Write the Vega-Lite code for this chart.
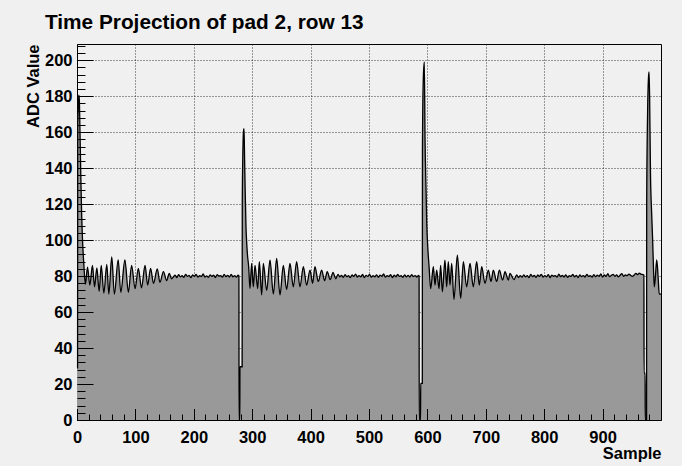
{
  "$schema": "https://vega.github.io/schema/vega-lite/v6.json",
  "width": 584,
  "height": 376,
  "autosize": {"type": "none"},
  "padding": {"left": 77, "top": 44, "right": 21, "bottom": 46},
  "background": "#f0f0f0",
  "title": {"text": "Time Projection of pad 2, row 13", "anchor": "start", "frame": "group", "dx": -32, "offset": -6, "baseline": "alphabetic", "font": "Liberation Sans", "fontSize": 20.8, "fontWeight": "bold", "color": "#000000"},
  "config": {"view": {"stroke": "#000000", "strokeWidth": 1, "fill": "#f0f0f0"}},
  "data": {"values": [
    {"sample":0,"adc":29},{"sample":1,"adc":29},{"sample":1.2,"adc":165},{"sample":2,"adc":172},{"sample":3,"adc":180.5},{"sample":4,"adc":178},{"sample":5,"adc":162},{"sample":6,"adc":145},{"sample":7,"adc":128},{"sample":8,"adc":114},{"sample":9,"adc":104},{"sample":10,"adc":96},{"sample":11,"adc":90},{"sample":12,"adc":85},{"sample":13,"adc":80},{"sample":14.5,"adc":75.5},
    {"sample":18,"adc":85},{"sample":22,"adc":75},{"sample":26.5,"adc":86},{"sample":30,"adc":74},{"sample":34,"adc":84.5},{"sample":38,"adc":71.5},{"sample":41.5,"adc":86},{"sample":46,"adc":70.5},{"sample":51,"adc":86.5},{"sample":54.5,"adc":70},{"sample":59.5,"adc":90.7},{"sample":64,"adc":70},{"sample":70.5,"adc":89},{"sample":75,"adc":71},{"sample":82,"adc":89},{"sample":88,"adc":71},{"sample":93.5,"adc":86},{"sample":99.5,"adc":73},{"sample":105,"adc":84.3},{"sample":110.5,"adc":73.5},{"sample":116.5,"adc":86},{"sample":121,"adc":75},{"sample":126,"adc":84.3},{"sample":131,"adc":76},{"sample":137.5,"adc":84},{"sample":142,"adc":76.5},{"sample":148,"adc":82.5},{"sample":153.5,"adc":77.5},{"sample":158,"adc":81.5},{"sample":162,"adc":78.5},
    {"sample":165,"adc":79.5},{"sample":168,"adc":80.5},{"sample":171,"adc":79.2},{"sample":174,"adc":80.8},{"sample":177,"adc":79.6},{"sample":180,"adc":80.2},{"sample":183,"adc":79.3},{"sample":186,"adc":81},{"sample":189,"adc":79.8},{"sample":192,"adc":80.4},{"sample":195,"adc":79.1},{"sample":198,"adc":80.6},{"sample":201,"adc":79.9},{"sample":204,"adc":80.9},{"sample":207,"adc":79.4},{"sample":210,"adc":80.3},{"sample":213,"adc":79.7},{"sample":216,"adc":81.2},{"sample":219,"adc":79.5},{"sample":222,"adc":80.1},{"sample":225,"adc":79.3},{"sample":228,"adc":80.7},{"sample":231,"adc":79.8},{"sample":234,"adc":80.5},{"sample":237,"adc":79.2},{"sample":240,"adc":80.8},{"sample":243,"adc":79.9},{"sample":246,"adc":80.3},{"sample":249,"adc":79.4},{"sample":252,"adc":81},{"sample":255,"adc":79.7},{"sample":258,"adc":80.4},{"sample":261,"adc":79.5},{"sample":264,"adc":80.9},{"sample":267,"adc":79.6},{"sample":270,"adc":80.2},{"sample":273,"adc":79.4},{"sample":276,"adc":80.5},{"sample":277.3,"adc":80},
    {"sample":277.5,"adc":0},{"sample":278.8,"adc":0},{"sample":279,"adc":29.6},{"sample":282.8,"adc":29.6},{"sample":283,"adc":120},{"sample":284,"adc":148},{"sample":285,"adc":160},{"sample":286,"adc":162},{"sample":287,"adc":145},{"sample":288,"adc":127},{"sample":289.4,"adc":107},{"sample":290.5,"adc":99},{"sample":291.7,"adc":92.6},{"sample":294,"adc":85},{"sample":296.2,"adc":73},
    {"sample":299.1,"adc":87},{"sample":301.9,"adc":74},{"sample":304.8,"adc":86},{"sample":309.4,"adc":73},{"sample":312.2,"adc":88},{"sample":316.2,"adc":69.5},{"sample":319.1,"adc":87},{"sample":324.8,"adc":72},{"sample":330.5,"adc":88.9},{"sample":336.2,"adc":70},{"sample":341.9,"adc":89.8},{"sample":347.6,"adc":69.5},{"sample":353.3,"adc":86},{"sample":359,"adc":72.5},{"sample":364.7,"adc":87},{"sample":370.4,"adc":74},{"sample":376.1,"adc":88},{"sample":381.8,"adc":74},{"sample":387.6,"adc":85.2},{"sample":393.2,"adc":75},{"sample":399,"adc":83.3},{"sample":403.4,"adc":76},{"sample":407.5,"adc":85.2},{"sample":413.1,"adc":77},{"sample":418.9,"adc":83.3},{"sample":424,"adc":77.5},{"sample":428.5,"adc":82.5},{"sample":433.5,"adc":78},{"sample":438.5,"adc":82},{"sample":443,"adc":78.5},{"sample":447,"adc":81},
    {"sample":450,"adc":79.6},{"sample":453,"adc":80.4},{"sample":456,"adc":79.3},{"sample":459,"adc":80.8},{"sample":462,"adc":79.7},{"sample":465,"adc":80.2},{"sample":468,"adc":79.1},{"sample":471,"adc":80.6},{"sample":474,"adc":79.8},{"sample":477,"adc":81.1},{"sample":480,"adc":79.5},{"sample":483,"adc":80.3},{"sample":486,"adc":79.6},{"sample":489,"adc":80.9},{"sample":492,"adc":79.2},{"sample":495,"adc":80.4},{"sample":498,"adc":79.8},{"sample":501,"adc":81},{"sample":504,"adc":79.4},{"sample":507,"adc":80.2},{"sample":510,"adc":79.6},{"sample":513,"adc":80.7},{"sample":516,"adc":79.3},{"sample":519,"adc":80.5},{"sample":522,"adc":79.9},{"sample":525,"adc":81.2},{"sample":528,"adc":79.4},{"sample":531,"adc":80.3},{"sample":534,"adc":79.7},{"sample":537,"adc":80.8},{"sample":540,"adc":79.2},{"sample":543,"adc":80.5},{"sample":546,"adc":79.6},{"sample":549,"adc":80.9},{"sample":552,"adc":79.8},{"sample":555,"adc":80.2},{"sample":558,"adc":79.3},{"sample":561,"adc":80.7},{"sample":564,"adc":79.6},{"sample":567,"adc":80.4},{"sample":570,"adc":79.5},{"sample":573,"adc":80.8},{"sample":576,"adc":79.7},{"sample":579,"adc":80.3},{"sample":582,"adc":79.5},{"sample":585,"adc":80.4},{"sample":585.8,"adc":80},
    {"sample":586,"adc":0},{"sample":588.3,"adc":0},{"sample":588.5,"adc":20.4},{"sample":591.3,"adc":20.4},{"sample":591.5,"adc":150},{"sample":593,"adc":190},{"sample":594.7,"adc":199},{"sample":596,"adc":155.6},{"sample":597.7,"adc":127.8},{"sample":598.9,"adc":109.3},{"sample":600.6,"adc":96.3},{"sample":602.9,"adc":85.2},{"sample":605.6,"adc":73},
    {"sample":610.2,"adc":85.2},{"sample":613,"adc":75},{"sample":615.9,"adc":83.3},{"sample":619.9,"adc":73},{"sample":622.7,"adc":86},{"sample":625.6,"adc":71.3},{"sample":630.1,"adc":88.9},{"sample":633,"adc":74},{"sample":635.8,"adc":88},{"sample":638.7,"adc":75},{"sample":641.6,"adc":87},{"sample":645.5,"adc":67},{"sample":651.3,"adc":91.6},{"sample":657,"adc":67.6},{"sample":661.6,"adc":88},{"sample":667.2,"adc":74},{"sample":673,"adc":87},{"sample":678.6,"adc":74},{"sample":684.4,"adc":88},{"sample":688.9,"adc":75},{"sample":693,"adc":85.2},{"sample":698.6,"adc":76},{"sample":704.4,"adc":83.3},{"sample":708.9,"adc":77},{"sample":712.9,"adc":83.3},{"sample":718.6,"adc":77},{"sample":723.2,"adc":83.3},{"sample":728.8,"adc":77.8},{"sample":732.9,"adc":82.4},{"sample":738.6,"adc":77.8},{"sample":741.4,"adc":81.5},{"sample":748.3,"adc":78},{"sample":752.9,"adc":80.6},{"sample":756,"adc":79.2},
    {"sample":759,"adc":80.3},{"sample":762,"adc":79.4},{"sample":765,"adc":80.7},{"sample":768,"adc":79.6},{"sample":771,"adc":80.2},{"sample":774,"adc":79.1},{"sample":777,"adc":80.9},{"sample":780,"adc":79.7},{"sample":783,"adc":80.4},{"sample":786,"adc":79.3},{"sample":789,"adc":80.6},{"sample":792,"adc":79.8},{"sample":795,"adc":81},{"sample":798,"adc":79.5},{"sample":801,"adc":80.2},{"sample":804,"adc":79.6},{"sample":807,"adc":80.8},{"sample":810,"adc":79.2},{"sample":813,"adc":80.5},{"sample":816,"adc":79.9},{"sample":819,"adc":80.3},{"sample":822,"adc":79.4},{"sample":825,"adc":81.1},{"sample":828,"adc":79.7},{"sample":831,"adc":80.4},{"sample":834,"adc":79.5},{"sample":837,"adc":80.7},{"sample":840,"adc":79.3},{"sample":843,"adc":80.2},{"sample":846,"adc":79.8},{"sample":849,"adc":80.9},{"sample":852,"adc":79.6},{"sample":855,"adc":80.4},{"sample":858,"adc":79.2},{"sample":861,"adc":80.6},{"sample":864,"adc":79.7},{"sample":867,"adc":80.3},{"sample":870,"adc":79.5},{"sample":873,"adc":81},{"sample":876,"adc":79.8},{"sample":879,"adc":80.2},{"sample":882,"adc":79.4},{"sample":885,"adc":80.8},{"sample":888,"adc":79.6},{"sample":891,"adc":80.5},{"sample":894,"adc":79.9},{"sample":897,"adc":81.2},{"sample":900,"adc":79.5},{"sample":903,"adc":80.6},{"sample":906,"adc":79.8},{"sample":909,"adc":81.3},{"sample":912,"adc":79.7},{"sample":915,"adc":80.4},{"sample":918,"adc":81},{"sample":921,"adc":79.9},{"sample":924,"adc":80.7},{"sample":927,"adc":79.6},{"sample":930,"adc":80.5},{"sample":933,"adc":81.4},{"sample":936,"adc":79.9},{"sample":939,"adc":80.6},{"sample":942,"adc":80.2},{"sample":945,"adc":81.1},{"sample":948,"adc":80.4},{"sample":951,"adc":79.8},{"sample":954,"adc":80.6},{"sample":957,"adc":81.5},{"sample":960,"adc":80.8},{"sample":963,"adc":81.6},{"sample":966,"adc":81},{"sample":969,"adc":80.8},{"sample":970.8,"adc":80.5},
    {"sample":971,"adc":26},{"sample":972.8,"adc":26},{"sample":973,"adc":0},{"sample":975.3,"adc":0},{"sample":975.5,"adc":120},{"sample":977,"adc":170},{"sample":978.5,"adc":190},{"sample":979.5,"adc":193.5},{"sample":980.5,"adc":180},{"sample":982,"adc":137},{"sample":984,"adc":115},{"sample":985.7,"adc":100},{"sample":987,"adc":86},{"sample":988.5,"adc":74},{"sample":990.5,"adc":80},{"sample":992.6,"adc":89},{"sample":994,"adc":85},{"sample":995.5,"adc":77},{"sample":997,"adc":70},{"sample":1000,"adc":70}
  ]},
  "layer": [
    {
      "mark": {"type": "area", "color": "#999999", "interpolate": "monotone"},
      "encoding": {
        "x": {"field": "sample", "type": "quantitative", "scale": {"domain": [0, 1000], "nice": false, "zero": false},
              "axis": {"orient": "bottom", "values": [0,100,200,300,400,500,600,700,800,900], "grid": true, "gridColor": "#000000", "gridDash": [1, 2], "gridWidth": 1, "gridOpacity": 0.75, "ticks": false, "labels": false, "domain": false, "title": null, "zindex": 0}},
        "y": {"field": "adc", "type": "quantitative", "scale": {"domain": [0, 209], "nice": false},
              "axis": {"orient": "left", "values": [0,20,40,60,80,100,120,140,160,180,200], "grid": true, "gridColor": "#000000", "gridDash": [1, 2], "gridWidth": 1, "gridOpacity": 0.75, "ticks": false, "labels": false, "domain": false, "title": null, "zindex": 0}}
      }
    },
    {
      "mark": {"type": "area", "color": "#999999", "interpolate": "monotone"},
      "encoding": {
        "x": {"field": "sample", "type": "quantitative",
              "axis": {"orient": "bottom", "values": [0,20,40,60,80,100,120,140,160,180,200,220,240,260,280,300,320,340,360,380,400,420,440,460,480,500,520,540,560,580,600,620,640,660,680,700,720,740,760,780,800,820,840,860,880,900,920,940,960,980,1000], "grid": false, "ticks": true, "tickSize": -6, "tickColor": "#000000", "tickWidth": 1, "labels": false, "domain": false, "title": null, "zindex": 1}},
        "y": {"field": "adc", "type": "quantitative",
              "axis": {"orient": "left", "values": [0,4,8,12,16,20,24,28,32,36,40,44,48,52,56,60,64,68,72,76,80,84,88,92,96,100,104,108,112,116,120,124,128,132,136,140,144,148,152,156,160,164,168,172,176,180,184,188,192,196,200,204,208], "grid": false, "ticks": true, "tickSize": -8, "tickColor": "#000000", "tickWidth": 1, "labels": false, "domain": false, "title": null, "zindex": 1}}
      }
    },
    {
      "mark": {"type": "line", "color": "#000000", "strokeWidth": 1.3, "interpolate": "monotone"},
      "encoding": {
        "x": {"field": "sample", "type": "quantitative",
              "axis": {"orient": "bottom", "values": [0,100,200,300,400,500,600,700,800,900], "grid": false, "ticks": true, "tickSize": -11.5, "tickColor": "#000000", "tickWidth": 1, "labels": true, "labelFont": "Liberation Sans", "labelFontSize": 16.5, "labelFontWeight": "bold", "labelColor": "#000000", "labelPadding": 20.5, "labelFlush": false, "labelOverlap": false, "domain": false, "title": "Sample", "titleFont": "Liberation Sans", "titleFontSize": 16.5, "titleFontWeight": "bold", "titleColor": "#000000", "titleAnchor": "end", "titlePadding": 0, "zindex": 1}},
        "y": {"field": "adc", "type": "quantitative",
              "axis": {"orient": "left", "values": [0,20,40,60,80,100,120,140,160,180,200], "grid": false, "ticks": true, "tickSize": -16, "tickColor": "#000000", "tickWidth": 1, "labels": true, "labelFont": "Liberation Sans", "labelFontSize": 16.5, "labelFontWeight": "bold", "labelColor": "#000000", "labelPadding": 21, "labelFlush": false, "labelOverlap": false, "domain": false, "title": "ADC Value", "titleFont": "Liberation Sans", "titleFontSize": 16.5, "titleFontWeight": "bold", "titleColor": "#000000", "titleAnchor": "end", "titlePadding": 3, "zindex": 1}}
      }
    }
  ],
  "resolve": {"axis": {"x": "independent", "y": "independent"}}
}
